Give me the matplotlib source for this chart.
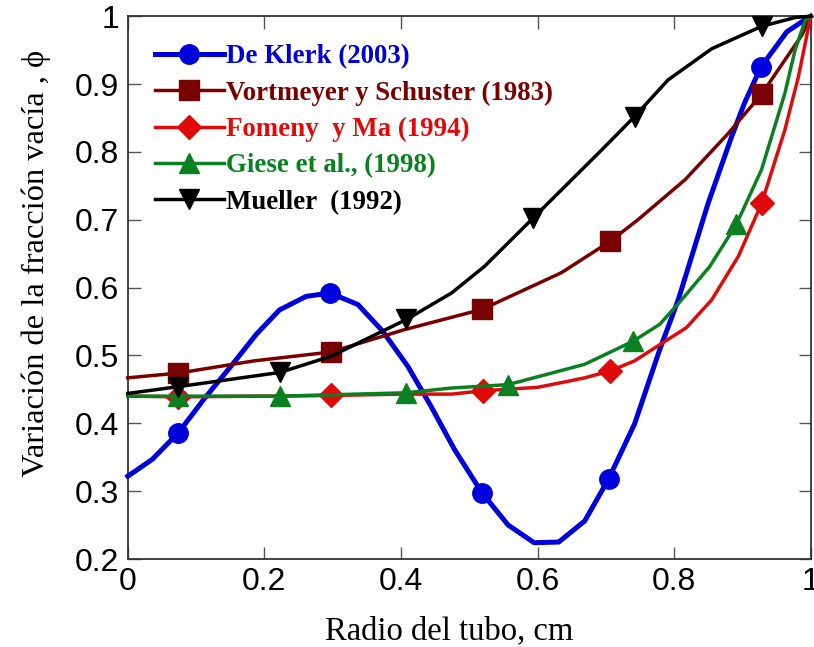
import matplotlib
matplotlib.use("Agg")
import matplotlib.pyplot as plt
from matplotlib import font_manager

# ---------------- data ----------------
labels = ["De Klerk (2003)", "Vortmeyer y Schuster (1983)", "Fomeny  y Ma (1994)",
          "Giese et al., (1998)", "Mueller  (1992)"]

klerk_x = [0.0, 0.036, 0.074, 0.111, 0.151, 0.188, 0.222, 0.261, 0.296, 0.337, 0.373,
           0.41, 0.444, 0.478, 0.519, 0.557, 0.595, 0.631, 0.669, 0.704, 0.742, 0.779,
           0.806, 0.85, 0.884, 0.903, 0.927, 0.965, 0.989, 1.0]
klerk_y = [0.322, 0.347, 0.386, 0.435, 0.484, 0.531, 0.567, 0.587, 0.592, 0.575, 0.536,
           0.484, 0.425, 0.362, 0.297, 0.25, 0.224, 0.225, 0.256, 0.318, 0.399, 0.509,
           0.582, 0.725, 0.822, 0.872, 0.925, 0.977, 0.993, 1.0]
klerk_mk = [2, 8, 14, 19, 26]

vort_x = [0.0, 0.074, 0.185, 0.297, 0.405, 0.519, 0.635, 0.706, 0.747, 0.816, 0.879,
          0.928, 0.987, 1.0]
vort_y = [0.467, 0.474, 0.492, 0.505, 0.538, 0.568, 0.622, 0.668, 0.70, 0.759, 0.827,
          0.885, 0.972, 1.0]
vort_mk = [1, 3, 5, 7, 11]

fom_x = [0.0, 0.074, 0.2, 0.297, 0.4, 0.474, 0.52, 0.6, 0.635, 0.669, 0.706, 0.742,
         0.818, 0.855, 0.894, 0.928, 0.962, 0.982, 1.0]
fom_y = [0.44, 0.439, 0.44, 0.441, 0.443, 0.443, 0.448, 0.453, 0.46, 0.467, 0.477,
         0.492, 0.541, 0.582, 0.646, 0.724, 0.832, 0.911, 1.0]
fom_mk = [1, 3, 6, 10, 15]

giese_x = [0.0, 0.074, 0.223, 0.408, 0.474, 0.557, 0.669, 0.74, 0.779, 0.811, 0.852,
           0.891, 0.928, 0.962, 0.977, 0.992, 1.0]
giese_y = [0.44, 0.44, 0.44, 0.445, 0.452, 0.457, 0.487, 0.521, 0.546, 0.582, 0.631,
           0.693, 0.774, 0.886, 0.95, 0.994, 1.0]
giese_mk = [1, 2, 3, 5, 7, 11]

muel_x = [0.0, 0.074, 0.223, 0.298, 0.408, 0.474, 0.522, 0.593, 0.694, 0.742, 0.791,
          0.855, 0.928, 0.977, 1.0]
muel_y = [0.444, 0.454, 0.475, 0.499, 0.553, 0.592, 0.631, 0.702, 0.803, 0.852, 0.906,
          0.952, 0.985, 0.998, 1.0]
muel_mk = [1, 2, 4, 7, 9, 12]

xticks = [0, 0.2, 0.4, 0.6, 0.8, 1]
xticklabels = ["0", "0.2", "0.4", "0.6", "0.8", "1"]
yticks = [0.2, 0.3, 0.4, 0.5, 0.6, 0.7, 0.8, 0.9, 1]
yticklabels = ["0.2", "0.3", "0.4", "0.5", "0.6", "0.7", "0.8", "0.9", "1"]

# ---------------- fonts ----------------
avail = {f.name for f in font_manager.fontManager.ttflist}
tick_font = "Liberation Sans Narrow" if "Liberation Sans Narrow" in avail else "Liberation Sans"
serif = ["Liberation Serif", "DejaVu Serif"]

fig = plt.figure(figsize=(8.14, 6.47), dpi=100)
ax = fig.add_axes([0.157, 0.136, 0.839, 0.839])

colors = ["#0000dd", "#780000", "#e00a0a", "#0a8020", "#000000"]
series = [
    (klerk_x, klerk_y, klerk_mk, "o", 14, 3.6),
    (vort_x, vort_y, vort_mk, "s", 15, 2.5),
    (fom_x, fom_y, fom_mk, "D", 12, 2.5),
    (giese_x, giese_y, giese_mk, "^", 14, 2.5),
    (muel_x, muel_y, muel_mk, "v", 14, 2.5),
]
for (x, y, mk, m, ms, lw), c, lab in zip(series, colors, labels):
    ax.plot(x, y, color=c, lw=lw, marker=m, ms=ms, markevery=mk,
            markeredgecolor=c, markerfacecolor=c, label=lab, clip_on=False, zorder=3)

ax.set_xlim(0, 1)
ax.set_ylim(0.2, 1)
ax.set_xticks(xticks)
ax.set_xticklabels(xticklabels)
ax.set_yticks(yticks)
ax.set_yticklabels(yticklabels)
ax.tick_params(direction="in", length=9, width=1, color="#555555",
               top=True, right=True, labelsize=23, pad=6)
for lbl in ax.get_xticklabels() + ax.get_yticklabels():
    lbl.set_fontfamily(tick_font)
for s in ax.spines.values():
    s.set_color("#333333")
    s.set_linewidth(1.3)

ax.set_xlabel("Radio del tubo, cm", fontfamily=serif, fontsize=23.5)
ax.xaxis.set_label_coords(0.47, -0.105)
ax.set_ylabel("Variación de la fracción vacía , ϕ", fontfamily=serif, fontsize=23.4)
ax.yaxis.set_label_coords(-0.112, 0.545)

leg = ax.legend(loc="upper left", frameon=False,
                prop={"family": serif, "weight": "bold", "size": 19.4},
                handlelength=2.55, handletextpad=0.1, labelspacing=0.42,
                borderaxespad=0.2, bbox_to_anchor=(0.016, 0.978))
for t, c in zip(leg.get_texts(), colors):
    t.set_color(c)

fig.savefig("out.png", dpi=100)
